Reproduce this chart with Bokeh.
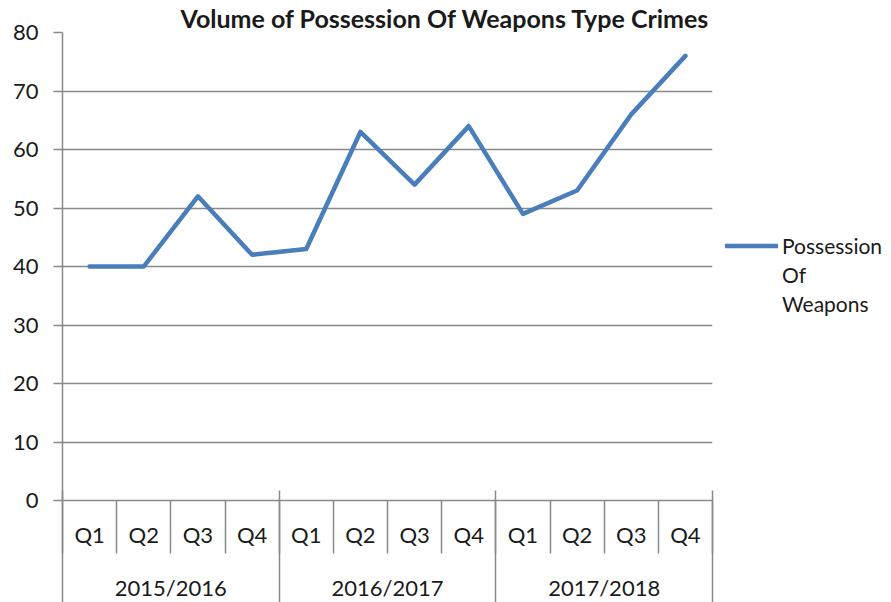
import numpy as np
from bokeh.plotting import figure
from bokeh.layouts import row
from bokeh.models import (Range1d, LinearAxis, FixedTicker, Legend,
                          LegendItem, ColumnDataSource)
from bokeh.embed import file_html
from bokeh.resources import INLINE

# ---- data ----
title_text = "Volume of Possession Of Weapons Type Crimes"
years = ["2015/2016", "2016/2017", "2017/2018"]
quarters = ["Q1", "Q2", "Q3", "Q4"]
series_name = "Possession Of Weapons"
values = [40, 40, 52, 42, 43, 63, 54, 64, 49, 53, 66, 76]
y_ticks = [0, 10, 20, 30, 40, 50, 60, 70, 80]

# ---- style ----
GRID = "#898989"
TEXT = "#1a1a1a"
LINE = "#4A7EBB"
FONT = "Lato"
FS = "22px"
H = 611

factors = [(y, q) for y in years for q in quarters]
n = len(factors)
g = len(quarters)
slot_centers = [i + 0.5 for i in range(n)]          # category slot centres

fig = figure(width=714, height=H,
             x_range=Range1d(0, n),
             y_range=Range1d(y_ticks[0], y_ticks[-1]),
             x_axis_location=None,
             output_backend="svg", toolbar_location=None,
             min_border_left=62, min_border_right=2,
             min_border_top=30, min_border_bottom=111)
fig.outline_line_color = None
fig.background_fill_color = "white"
fig.border_fill_color = "white"
fig.xgrid.visible = False

# y axis
fig.yaxis.ticker = FixedTicker(ticks=y_ticks)
fig.yaxis.axis_line_color = GRID
fig.yaxis.axis_line_width = 1.5
fig.yaxis.major_tick_line_color = GRID
fig.yaxis.major_tick_line_width = 1.5
fig.yaxis.major_tick_out = 9
fig.yaxis.major_tick_in = 0
fig.yaxis.minor_tick_line_color = None
fig.yaxis.major_label_standoff = 15
fig.yaxis.major_label_text_font = FONT
fig.yaxis.major_label_text_font_size = FS
fig.yaxis.major_label_text_color = TEXT
fig.ygrid.grid_line_color = GRID
fig.ygrid.grid_line_width = 1.5

# x axes: quarter row (with cell separators) and year row (with group separators)
q_axis = LinearAxis(
    ticker=FixedTicker(ticks=slot_centers, minor_ticks=list(range(n + 1))),
    major_label_overrides={c: f[1] for c, f in zip(slot_centers, factors)},
    major_tick_out=0, major_tick_in=0,
    minor_tick_out=53, minor_tick_in=0,
    minor_tick_line_color=GRID, minor_tick_line_width=1.5,
    axis_line_color=GRID, axis_line_width=1.5,
    major_label_standoff=-33,
    major_label_text_font=FONT, major_label_text_font_size=FS,
    major_label_text_color=TEXT)
fig.add_layout(q_axis, "below")

year_axis = LinearAxis(
    ticker=FixedTicker(ticks=[i * g + g / 2 for i in range(len(years))],
                       minor_ticks=[i * g for i in range(len(years) + 1)]),
    major_label_overrides={i * g + g / 2: y for i, y in enumerate(years)},
    major_tick_out=0, major_tick_in=0,
    minor_tick_out=70, minor_tick_in=60,
    minor_tick_line_color=GRID, minor_tick_line_width=1.5,
    axis_line_color=None,
    major_label_standoff=-47,
    major_label_text_font=FONT, major_label_text_font_size=FS,
    major_label_text_color=TEXT)
fig.add_layout(year_axis, "below")

src = ColumnDataSource(dict(x=slot_centers, y=values))
fig.line(x="x", y="y", source=src, line_width=4.5, line_color=LINE,
         line_join="round", line_cap="round")

fig.title.text = title_text
fig.title.align = "left"
fig.title.offset = 118
fig.title.text_font = FONT
fig.title.text_font_size = "25px"
fig.title.text_font_style = "bold"
fig.title.text_color = TEXT
fig.title.standoff = 0

# ---- legend panel (series key, name wrapped over three lines) ----
key = figure(width=177, height=H, x_range=Range1d(0, 1), y_range=Range1d(0, 1),
             x_axis_location=None, y_axis_location=None,
             output_backend="svg", toolbar_location=None,
             min_border_left=0, min_border_right=0,
             min_border_top=0, min_border_bottom=0)
key.outline_line_color = None
key.grid.visible = False
# a key-only line renderer (no drawable points) that carries the series style
key_src = ColumnDataSource(dict(x=np.array([np.nan]), y=np.array([np.nan])))
rk = key.line(x="x", y="y", source=key_src, line_width=4.5, line_color=LINE,
              line_cap="round")

name_lines = series_name.split(" ")
items = [LegendItem(label=name_lines[0], renderers=[rk])]
items += [LegendItem(label=t, renderers=[]) for t in name_lines[1:]]
legend = Legend(items=items,
                location=(11, 182), glyph_width=53, glyph_height=29,
                label_height=29, label_standoff=4, padding=0, spacing=0, margin=0,
                border_line_color=None, background_fill_alpha=0,
                label_text_font=FONT, label_text_font_size="21px",
                label_text_color=TEXT)
key.add_layout(legend, "center")

p = row(fig, key)

open("out.html", "w").write(file_html(p, INLINE))
